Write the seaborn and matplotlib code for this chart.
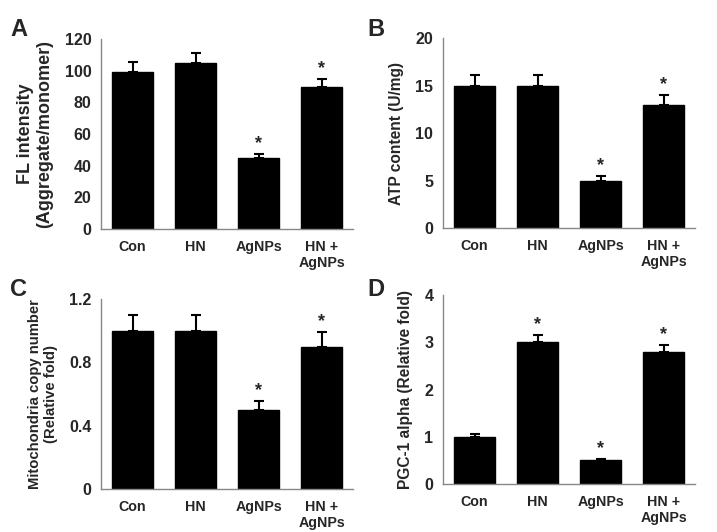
import matplotlib
matplotlib.use("Agg")
import matplotlib.pyplot as plt
import seaborn as sns
import pandas as pd

sns.set_style("white")
plt.rcParams['font.family'] = ['Liberation Sans', 'DejaVu Sans']
plt.rcParams['font.weight'] = 'bold'

groups = ["Con", "HN", "AgNPs", "HN +\nAgNPs"]

# panel data: means, upper error, significance
fl_mean = [99.5, 105, 45, 90]
fl_err = [6, 6, 2.5, 4.5]
fl_sig = [False, False, True, True]

atp_mean = [15, 15, 5, 13]
atp_err = [1.1, 1.1, 0.45, 1.0]
atp_sig = [False, False, True, True]

mito_mean = [1.0, 1.0, 0.5, 0.9]
mito_err = [0.1, 0.1, 0.055, 0.09]
mito_sig = [False, False, True, True]

pgc_mean = [1.0, 3.0, 0.5, 2.8]
pgc_err = [0.06, 0.15, 0.04, 0.14]
pgc_sig = [False, True, True, True]

fig = plt.figure(figsize=(7.17, 5.32), dpi=100)

panels = [
    ("A", [0.1409, 0.5695, 0.3515, 0.357], fl_mean, fl_err, fl_sig, (0, 120), [0, 20, 40, 60, 80, 100, 120],
     "FL intensity\n(Aggregate/monomer)", 13, (0.014, 0.945)),
    ("B", [0.6179, 0.5714, 0.3515, 0.357], atp_mean, atp_err, atp_sig, (0, 20), [0, 5, 10, 15, 20],
     "ATP content (U/mg)", 11.2, (0.513, 0.945)),
    ("C", [0.1409, 0.0808, 0.3515, 0.357], mito_mean, mito_err, mito_sig, (0, 1.2), [0, 0.4, 0.8, 1.2],
     "Mitochondria copy number\n(Relative fold)", 10.7, (0.014, 0.455)),
    ("D", [0.6179, 0.0902, 0.3515, 0.355], pgc_mean, pgc_err, pgc_sig, (0, 4), [0, 1, 2, 3, 4],
     "PGC-1 alpha (Relative fold)", 11.2, (0.513, 0.455)),
]

for letter, pos, means, errs, sigs, ylim, yticks, ylabel, lab_fs, lpos in panels:
    ax = fig.add_axes(pos)
    df = pd.DataFrame({"group": groups, "value": means})
    sns.barplot(data=df, x="group", y="value", color="black", width=0.66,
                edgecolor="black", ax=ax, errorbar=None)
    x = list(range(len(groups)))
    ax.errorbar(x, means, yerr=[[0] * len(errs), errs], fmt="none",
                ecolor="black", elinewidth=1.5, capsize=3.5, capthick=1.5)
    span = ylim[1] - ylim[0]
    for xi, m, e, s in zip(x, means, errs, sigs):
        if s:
            ax.text(xi, m + e + span * 0.01, "*", ha="center", va="bottom",
                    fontsize=13, fontweight="bold")
    ax.set_xlim(-0.5, 3.5)
    ax.set_ylim(*ylim)
    ax.set_yticks(yticks)
    ax.set_yticklabels([("%g" % t) for t in yticks], fontsize=11.5, fontweight="bold")
    ax.set_xticks(x)
    ax.set_xticklabels(groups, fontsize=10.3, fontweight="bold")
    ax.set_xticks([-0.5, 0.5, 1.5, 2.5, 3.5], minor=True)
    ax.tick_params(axis="x", which="major", length=0, pad=8)
    ax.tick_params(axis="x", which="minor", length=4, color="#888888", direction="out")
    ax.tick_params(axis="y", length=4, color="#888888", direction="out", pad=3)
    ax.set_xlabel("")
    ax.set_ylabel(ylabel, fontsize=lab_fs, fontweight="bold", labelpad=8)
    for side in ["top", "right"]:
        ax.spines[side].set_visible(False)
    for side in ["left", "bottom"]:
        ax.spines[side].set_color("#888888")
        ax.spines[side].set_linewidth(1.0)
    fig.text(lpos[0], lpos[1], letter, fontsize=17, fontweight="bold", va="center")

fig.savefig("out.png", dpi=100)
